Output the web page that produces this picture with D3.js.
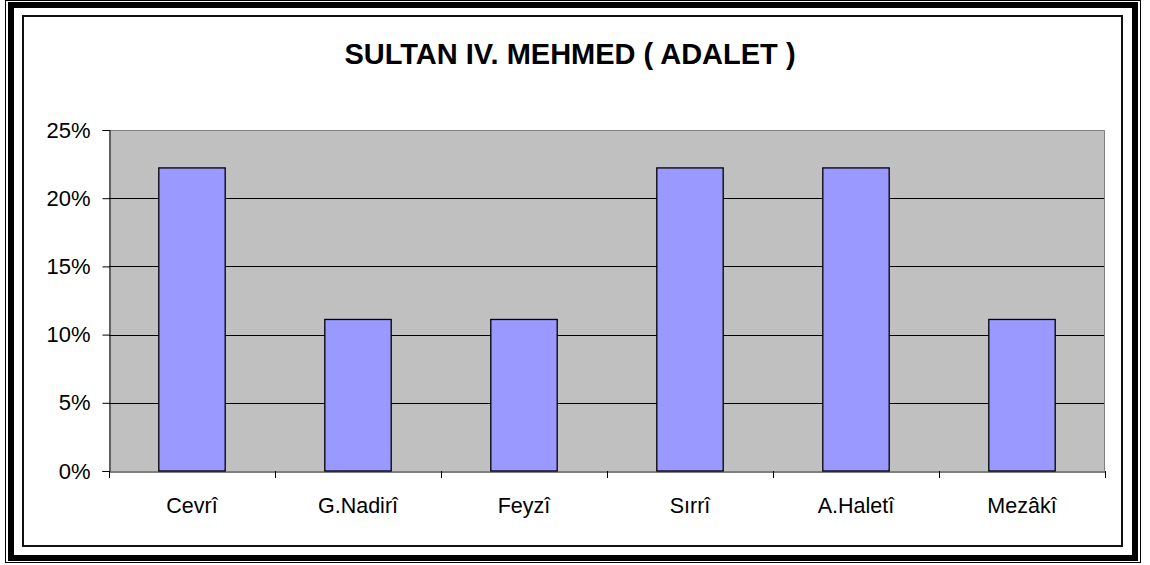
<!DOCTYPE html>
<html>
<head>
<meta charset="utf-8">
<script src="https://cdn.jsdelivr.net/npm/d3@7"></script>
<style>
  body { margin: 0; background: #fff; }
  svg text { font-family: "Liberation Sans", Arial, sans-serif; }
</style>
</head>
<body>
<svg id="chart" width="1150" height="565"></svg>
<script>
const categories = ['Cevrî', 'G.Nadirî', 'Feyzî', 'Sırrî', 'A.Haletî', 'Mezâkî']
const values = [22.22, 11.11, 11.11, 22.22, 22.22, 11.11]
const yTicks = [0, 5, 10, 15, 20, 25]
const title = 'SULTAN IV. MEHMED ( ADALET )'

const svg = d3.select('#chart')

/* frame: thin outer line, thick black line, inner thin line */
svg.append('rect').attr('x', 5.5).attr('y', 0.5).attr('width', 1135).attr('height', 562)
    .attr('fill', 'none').attr('stroke', '#000').attr('stroke-width', 1)
svg.append('rect').attr('x', 11).attr('y', 5).attr('width', 1124).attr('height', 553)
    .attr('fill', 'none').attr('stroke', '#000').attr('stroke-width', 6)
svg.append('rect').attr('x', 23).attr('y', 16).attr('width', 1099).attr('height', 530)
    .attr('fill', 'none').attr('stroke', '#111').attr('stroke-width', 2)

const margin = {left: 109, right: 1105, top: 130, bottom: 471}

const xBand = d3.scaleBand().domain(categories).range([margin.left, margin.right])
const barW = xBand.bandwidth() / 2.5

const y = d3.scaleLinear()
    .domain([0, 25])
    .range([margin.bottom, margin.top])

/* plot area */
svg.append('rect')
    .attr('x', margin.left).attr('y', margin.top)
    .attr('width', margin.right - margin.left).attr('height', margin.bottom - margin.top)
    .attr('fill', '#c0c0c0')

/* gridlines */
svg.append('g').selectAll('line')
    .data(yTicks.filter(d => d > 0 && d < 25))
    .join('line')
    .attr('x1', margin.left).attr('x2', margin.right)
    .attr('y1', d => Math.round(y(d)) + 0.5).attr('y2', d => Math.round(y(d)) + 0.5)
    .attr('stroke', '#000').attr('stroke-width', 1)

/* plot border top/right gray */
svg.append('path')
    .attr('d', `M${margin.left},${margin.top + 0.5}H${margin.right - 0.5}V${margin.bottom}`)
    .attr('fill', 'none').attr('stroke', '#808080').attr('stroke-width', 1)

/* bars */
svg.append('g').selectAll('rect')
    .data(values)
    .join('rect')
    .attr('x', (d, i) => xBand(categories[i]) + xBand.bandwidth() / 2 - barW / 2)
    .attr('y', d => y(d))
    .attr('width', barW)
    .attr('height', d => y(0) - y(d))
    .attr('fill', '#9999ff')
    .attr('stroke', '#000')
    .attr('stroke-width', 1.3)

/* y axis */
const yAxis = d3.axisLeft(y).tickValues(yTicks).tickSize(7).tickPadding(12).tickFormat(d => d + '%')
const gy = svg.append('g').attr('transform', `translate(${margin.left + 0.5},0)`).call(yAxis)
gy.select('.domain').attr('stroke', '#000')
gy.selectAll('.tick line').attr('stroke', '#000')
gy.selectAll('text').attr('font-size', 22).attr('fill', '#000')
    .attr('font-family', '"Liberation Sans", Arial, sans-serif')

/* x axis */
const xAxis = d3.axisBottom(xBand).tickSize(0)
const gx = svg.append('g').attr('transform', `translate(0,${margin.bottom + 0.5})`).call(xAxis)
gx.select('.domain').attr('stroke', '#000')
gx.selectAll('text').attr('font-size', 21.5).attr('fill', '#000')
    .attr('y', 41).attr('dy', 0)
    .attr('font-family', '"Liberation Sans", Arial, sans-serif')

/* category separator ticks */
svg.append('g').selectAll('line')
    .data(categories.concat(['end']))
    .join('line')
    .attr('x1', (d, i) => Math.round(margin.left + i * xBand.bandwidth()) + 0.5)
    .attr('x2', (d, i) => Math.round(margin.left + i * xBand.bandwidth()) + 0.5)
    .attr('y1', margin.bottom)
    .attr('y2', margin.bottom + 7)
    .attr('stroke', '#000')

/* title */
svg.append('text')
    .attr('x', 570).attr('y', 64)
    .attr('text-anchor', 'middle')
    .attr('font-size', 29)
    .attr('font-weight', 'bold')
    .text(title)
</script>
</body>
</html>
